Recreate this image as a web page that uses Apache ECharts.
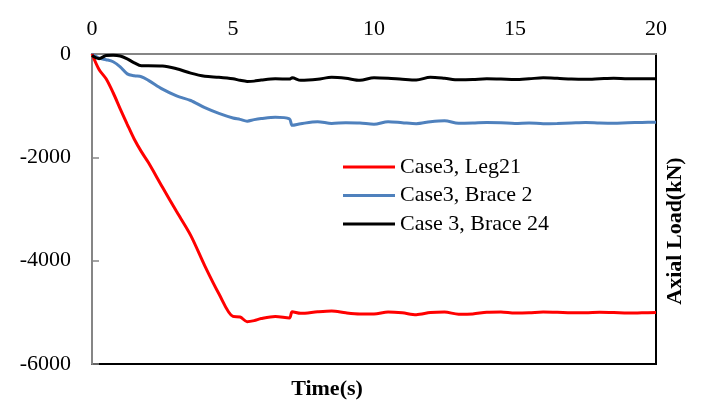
<!DOCTYPE html>
<html><head><meta charset="utf-8">
<script src="https://cdn.jsdelivr.net/npm/echarts@6/dist/echarts.min.js"></script>
<style>html,body{margin:0;padding:0;background:#fff}#c{width:702px;height:400px}</style>
</head><body><div id="c"></div>
<script>
const time = [0,0.25,0.5,0.75,1,1.25,1.5,1.75,2,2.5,3,3.5,4,4.5,5,5.25,5.5,5.75,6,6.5,7,7.1,7.4,8,8.5,9,9.5,10,10.5,11,11.5,12,12.5,13,13.5,14,14.5,15,15.5,16,16.5,17,17.5,18,18.5,19,19.5,20];
const leg21 = [0,-300,-480,-750,-1060,-1360,-1650,-1890,-2100,-2580,-3050,-3510,-4100,-4640,-5080,-5090,-5180,-5160,-5120,-5080,-5110,-4990,-5020,-4990,-4975,-5010,-5030,-5030,-4995,-5010,-5045,-5005,-4995,-5035,-5030,-5000,-4995,-5015,-5010,-4995,-5000,-5010,-5010,-5000,-5005,-5015,-5010,-5005];
const brace2 = [0,-80,-110,-150,-250,-385,-420,-440,-510,-680,-810,-900,-1040,-1150,-1240,-1265,-1300,-1270,-1250,-1225,-1255,-1380,-1350,-1310,-1345,-1330,-1335,-1360,-1310,-1330,-1350,-1310,-1290,-1340,-1335,-1325,-1330,-1345,-1335,-1350,-1345,-1335,-1325,-1335,-1340,-1330,-1325,-1320];
const brace24 = [-30,-90,-30,-25,-40,-95,-170,-225,-225,-230,-285,-370,-430,-450,-480,-510,-530,-525,-505,-480,-485,-460,-510,-490,-450,-470,-510,-460,-470,-490,-505,-450,-470,-500,-495,-480,-485,-495,-480,-460,-470,-485,-490,-480,-470,-480,-480,-480];
const seriesNames = ['Case3, Leg21','Case3, Brace 2','Case 3, Brace 24'];
const xTitle = 'Time(s)';
const yTitle = 'Axial Load(kN)';

const pair = (ys) => time.map((t,i)=>[t, ys[i]]);
const chart = echarts.init(document.getElementById('c'), null, {renderer:'canvas'});
const font = 'Liberation Serif';
chart.setOption({
  animation:false,
  grid:{left:92,top:54,right:46,bottom:36,show:true,borderColor:'#000',borderWidth:2,backgroundColor:'transparent'},
  xAxis:{type:'value',position:'top',min:0,max:20,interval:5,
    axisLine:{show:true,onZero:false,lineStyle:{color:'#868686',width:2}},
    axisTick:{show:false},splitLine:{show:false},
    axisLabel:{fontFamily:font,fontSize:22,color:'#000',margin:14}},
  yAxis:{type:'value',min:-6000,max:0,interval:2000,
    axisLine:{show:true,onZero:false,lineStyle:{color:'#868686',width:2}},
    axisTick:{show:true,inside:true,length:7,lineStyle:{color:'#868686',width:1.5}},
    splitLine:{show:false},
    axisLabel:{fontFamily:font,fontSize:22,color:'#000',margin:21,formatter:(v)=>String(v)}},
  legend:{orient:'vertical',left:343,top:155,padding:0,icon:'rect',itemWidth:52,itemHeight:3,itemGap:4.5,
    textStyle:{fontFamily:font,fontSize:22,color:'#000',lineHeight:24,padding:[0,0,0,0]},
    data:seriesNames},
  graphic:[
    {type:'text',x:327,y:389,style:{text:xTitle,font:'bold 22px "Liberation Serif"',fill:'#000',textAlign:'center',textVerticalAlign:'middle'}},
    {type:'text',x:675,y:231,rotation:Math.PI/2,style:{text:yTitle,font:'bold 22px "Liberation Serif"',fill:'#000',textAlign:'center',textVerticalAlign:'middle'}}
  ],
  series:[
    {name:seriesNames[0],type:'line',data:pair(leg21),showSymbol:false,smooth:0.3,lineStyle:{color:'#ff0000',width:3},itemStyle:{color:'#ff0000'},z:2},
    {name:seriesNames[1],type:'line',data:pair(brace2),showSymbol:false,smooth:0.3,lineStyle:{color:'#4f81bd',width:3},itemStyle:{color:'#4f81bd'},z:1},
    {name:seriesNames[2],type:'line',data:pair(brace24),showSymbol:false,smooth:0.3,lineStyle:{color:'#000',width:3},itemStyle:{color:'#000'},z:3}
  ]
});
</script></body></html>
